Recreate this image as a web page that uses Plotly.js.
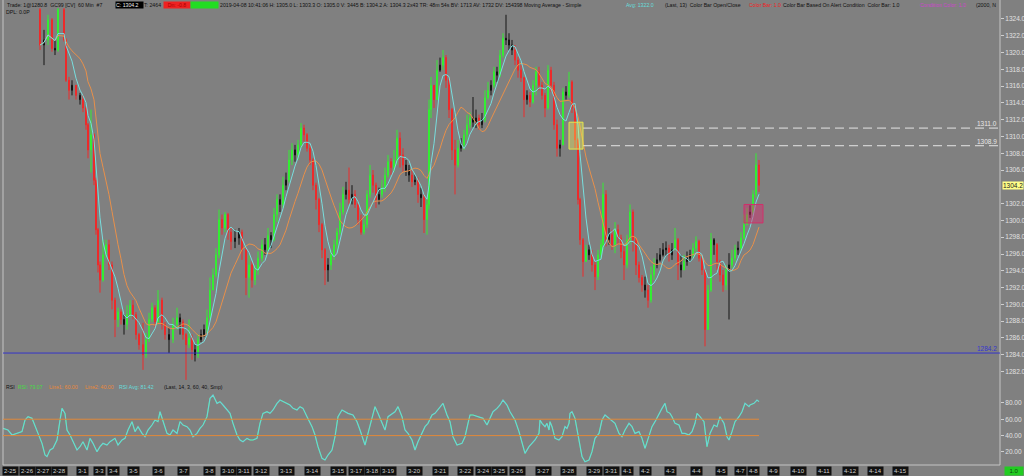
<!DOCTYPE html>
<html><head><meta charset="utf-8">
<script src="https://cdn.plot.ly/plotly-3.0.1.min.js"></script>
<style>html,body{margin:0;padding:0;background:#808080;overflow:hidden}#chart{width:1024px;height:476px}</style>
</head><body><div id="chart"></div>
<script>
// ---- price bars (60 min GC, grouped) ----
const candleX = [40,44,48,52,55,58,64,66,69,72,
76,80,83,86,88,91,94,96,98,100,
103,106,109,112,115,118,121,124,127,130,
133,136,139,143,146,149,152,155,158,162,
165,169,173,177,180,183,186,189,192,195,
198,201,204,207,210,213,216,219,222,225,
228,231,235,239,242,246,249,252,255,258,
262,265,268,271,274,277,280,283,286,289,
292,295,298,301,304,307,310,313,316,319,
322,325,328,331,334,337,340,343,346,349,
352,355,358,361,364,367,370,373,376,379,
382,385,388,391,394,397,400,403,406,409,
412,415,418,421,424,427,429,431,434,437,
440,443,446,449,452,455,458,461,464,467,
470,473,476,479,482,485,488,491,494,497,
500,503,506,509,512,515,518,521,524,527,
530,533,536,539,542,545,548,551,554,557,
560,563,566,569,572,575,578,580,583,586,
589,592,595,598,601,603,606,609,612,615,
618,621,624,627,630,633,636,639,642,645,
648,651,654,657,660,663,666,669,672,675,
678,681,684,687,690,693,696,699,702,705,
708,711,714,717,720,723,726,729,732,735,
738,741,744,747,750,753,756,759];
const firstOpen = 1325.1;
const closes = [1320.9,1321.5,1323.9,1320.5,1320.3,1325.1,1321.5,1316.7,1315.5,1316.1,
1314.9,1314.4,1313.4,1311.4,1308.4,1310.2,1304.8,1298.9,1294.7,1292.9,
1295.9,1297.1,1294.7,1290.5,1288.2,1289.1,1288.2,1287.6,1288.8,1289.9,
1288.8,1286.4,1285.2,1284.0,1285.8,1288.2,1289.6,1287.9,1290.5,1287.6,
1286.4,1285.8,1287.6,1288.4,1287.9,1286.4,1285.2,1286.0,1284.6,1284.0,
1285.8,1286.4,1287.0,1288.4,1291.7,1293.5,1295.9,1300.1,1299.1,1300.7,
1298.6,1297.5,1297.9,1298.6,1296.5,1293.2,1294.7,1292.9,1294.1,1295.5,
1297.1,1296.5,1298.2,1297.7,1300.7,1302.5,1301.9,1304.2,1304.8,1307.2,
1308.4,1307.8,1309.0,1311.0,1310.2,1308.6,1307.2,1304.2,1302.5,1299.5,
1296.5,1294.1,1294.7,1295.9,1297.1,1298.6,1301.0,1303.1,1303.6,1302.5,
1303.1,1301.9,1300.1,1298.6,1299.5,1303.1,1305.4,1304.2,1302.5,1303.1,
1303.9,1305.4,1307.0,1306.3,1307.2,1309.8,1307.8,1306.6,1306.0,1305.4,
1304.6,1304.8,1303.1,1302.7,1300.1,1301.9,1313.2,1316.1,1314.4,1317.9,
1318.5,1319.4,1316.7,1313.2,1308.4,1306.6,1308.6,1309.0,1310.2,1311.4,
1312.2,1311.7,1312.2,1311.4,1312.0,1314.6,1315.5,1316.1,1317.7,1317.3,
1319.7,1321.7,1321.5,1320.9,1320.3,1319.1,1317.9,1317.0,1314.4,1314.9,
1314.1,1316.1,1317.7,1316.1,1314.9,1313.4,1317.9,1316.1,1311.4,1308.6,
1309.0,1315.3,1314.9,1316.5,1313.4,1309.6,1302.5,1297.7,1295.1,1296.5,
1295.9,1294.7,1293.3,1295.9,1297.1,1303.1,1297.7,1298.3,1297.1,1298.9,
1297.9,1296.3,1294.7,1297.7,1301.0,1297.7,1294.7,1293.2,1292.3,1291.7,
1290.5,1293.5,1294.7,1295.3,1295.9,1296.5,1296.7,1295.9,1296.5,1297.7,
1294.7,1294.1,1295.1,1295.5,1295.9,1296.7,1297.5,1295.5,1294.1,1287.0,
1291.7,1297.7,1297.1,1295.1,1293.5,1292.3,1294.1,1294.7,1295.5,1296.5,
1296.7,1297.9,1299.5,1300.7,1301.0,1303.1,1306.6,1304.2];
const highs = [1325.3,1322.7,1324.5,1324.1,1321.5,1325.3,1325.3,1321.7,1317.1,1316.7,
1315.9,1315.2,1314.9,1313.6,1311.6,1313.2,1310.4,1305.1,1299.1,1295.1,
1297.7,1297.7,1297.7,1295.1,1290.8,1289.6,1289.4,1288.8,1289.9,1290.5,
1290.5,1289.1,1286.6,1287.8,1286.6,1289.0,1290.2,1289.9,1291.7,1290.8,
1287.9,1287.2,1288.4,1289.6,1288.9,1288.2,1286.6,1288.2,1286.4,1285.2,
1286.4,1287.0,1287.6,1289.4,1293.2,1294.3,1296.7,1301.3,1300.7,1301.0,
1300.9,1299.1,1298.9,1299.1,1298.9,1296.7,1295.9,1295.1,1294.7,1296.3,
1297.7,1297.9,1299.1,1298.6,1301.5,1303.1,1303.1,1305.2,1305.7,1308.4,
1309.2,1309.0,1309.6,1311.6,1311.4,1310.4,1309.0,1307.4,1304.5,1302.7,
1299.7,1296.7,1295.5,1296.5,1297.7,1299.1,1302.1,1304.0,1304.6,1306.3,
1304.2,1303.6,1302.1,1300.7,1300.1,1303.6,1306.6,1306.0,1304.5,1303.9,
1304.8,1306.3,1307.8,1307.4,1308.4,1310.8,1310.5,1308.6,1307.2,1306.6,
1306.0,1305.4,1305.1,1303.9,1303.1,1302.5,1314.4,1317.1,1315.8,1319.1,
1319.4,1320.3,1319.7,1317.0,1313.4,1309.6,1309.6,1309.8,1310.8,1312.6,
1312.9,1314.7,1313.2,1312.6,1312.8,1315.5,1316.5,1316.7,1318.3,1318.3,
1320.3,1322.3,1324.5,1322.3,1321.5,1320.9,1319.5,1318.5,1317.1,1315.5,
1315.3,1316.7,1318.3,1318.3,1316.5,1315.2,1318.5,1318.3,1316.5,1312.0,
1309.6,1315.8,1316.0,1317.7,1316.7,1313.8,1309.8,1302.7,1297.9,1297.1,
1297.1,1296.5,1295.1,1296.5,1297.7,1304.5,1303.6,1299.1,1298.9,1299.8,
1299.5,1298.3,1297.1,1298.3,1301.9,1301.3,1297.9,1295.1,1293.5,1293.3,
1292.3,1294.5,1295.5,1296.1,1296.7,1297.3,1297.5,1297.1,1297.3,1299.1,
1297.9,1295.9,1295.9,1296.3,1296.5,1297.3,1298.1,1297.7,1295.9,1294.3,
1292.3,1298.5,1297.9,1297.3,1295.3,1294.1,1294.7,1296.1,1296.5,1297.1,
1297.5,1298.6,1300.7,1301.5,1301.8,1303.6,1308.0,1307.2];
const lows = [1320.3,1318.5,1320.9,1320.1,1319.7,1320.1,1321.3,1316.5,1314.4,1314.9,
1314.4,1313.8,1312.9,1310.8,1307.4,1305.7,1304.2,1298.3,1293.8,1291.4,
1292.7,1295.5,1294.1,1289.4,1286.1,1287.3,1287.6,1286.4,1287.0,1288.4,
1288.2,1285.8,1284.6,1282.2,1283.6,1285.5,1287.9,1287.3,1287.6,1287.0,
1285.8,1284.2,1285.4,1287.0,1286.4,1285.8,1281.0,1284.8,1283.4,1283.2,
1283.6,1285.5,1286.1,1286.6,1288.2,1291.7,1293.2,1295.5,1298.3,1298.6,
1297.7,1296.5,1296.7,1297.1,1295.3,1291.1,1290.8,1292.0,1292.3,1293.5,
1295.1,1295.9,1296.3,1296.7,1297.5,1299.8,1301.0,1301.5,1303.6,1304.5,
1306.6,1307.0,1307.2,1308.6,1309.4,1308.2,1306.6,1303.6,1301.3,1298.6,
1295.5,1292.3,1292.7,1294.1,1295.3,1296.5,1298.3,1300.7,1302.5,1301.9,
1301.9,1301.5,1299.5,1298.3,1298.3,1299.1,1302.7,1303.3,1301.5,1301.9,
1302.7,1303.4,1305.1,1305.4,1305.8,1306.6,1306.3,1305.8,1305.3,1304.6,
1304.0,1304.2,1302.1,1301.6,1298.5,1298.3,1301.3,1312.2,1313.4,1314.4,
1317.7,1317.9,1315.8,1312.2,1307.2,1303.1,1306.3,1308.2,1308.4,1309.6,
1311.0,1311.1,1311.0,1310.8,1311.0,1311.7,1314.4,1314.9,1315.8,1316.5,
1317.1,1319.4,1320.9,1320.3,1319.7,1318.5,1317.0,1316.5,1312.3,1313.8,
1313.5,1313.9,1314.9,1315.5,1314.4,1312.3,1313.2,1315.3,1310.8,1307.6,
1307.6,1309.0,1314.4,1314.6,1312.8,1308.6,1301.9,1297.1,1293.3,1295.1,
1295.3,1293.9,1291.7,1292.9,1295.5,1296.5,1296.9,1297.1,1296.5,1296.1,
1297.1,1295.5,1292.9,1294.3,1297.1,1296.3,1293.5,1292.6,1291.5,1290.8,
1289.6,1290.2,1292.9,1294.3,1295.1,1295.7,1295.8,1295.1,1295.3,1296.5,
1292.9,1293.2,1294.1,1294.6,1295.1,1295.5,1296.3,1295.1,1293.5,1285.0,
1287.0,1291.5,1295.9,1294.1,1292.7,1291.5,1291.7,1288.2,1294.3,1295.1,
1295.9,1296.5,1297.7,1299.5,1300.3,1300.7,1302.7,1303.4];

// ---- RSI (14) ----
const rsiX = [3,8,12,17,22,25,28,32,35,38,42,45,47,50,53,57,60,62,65,67,
70,73,77,80,83,87,90,93,97,100,103,107,110,115,118,122,125,128,132,135,
138,142,145,148,152,155,158,160,163,167,170,173,177,180,183,187,190,193,197,200,
203,207,210,213,217,220,223,227,230,233,237,240,243,247,250,253,257,260,263,267,
270,273,277,280,283,287,290,293,297,300,303,307,312,315,318,322,325,328,332,335,
338,342,345,348,353,357,360,365,368,372,375,378,382,385,388,392,395,398,402,405,
408,412,415,418,422,425,428,432,435,438,443,447,450,453,457,462,465,468,470,473,
478,483,487,490,493,497,500,503,507,510,
512,515,519,522,525,529,532,535,539,540,542,545,547,549,550,552,555,559,562,565,
567,569,570,572,575,579,582,585,589,592,595,599,602,605,609,612,615,619,622,625,
629,632,635,639,642,645,649,652,655,659,662,665,667,670,672,675,679,682,685,689,
692,695,697,700,704,707,710,714,717,720,724,727,729,732,735,739,742,745,749,750,
754,757,759];
const rsiVal = [48.8,46.8,40.7,42.7,44.8,59.0,63.1,61.1,52.9,42.7,30.5,16.2,14.2,22.3,24.4,34.6,59.0,73.3,67.2,46.8,
40.7,32.5,22.3,26.4,32.5,22.3,36.6,30.5,20.3,26.4,30.5,28.4,32.5,36.6,28.4,34.6,36.6,46.8,57.0,44.8,
50.9,42.7,38.6,46.8,52.9,59.0,57.0,69.2,57.0,42.7,40.7,46.8,42.7,57.0,52.9,50.9,46.8,38.6,42.7,48.8,
52.9,63.1,85.6,89.6,79.4,81.5,77.4,71.3,67.2,55.0,40.7,34.6,32.5,36.6,34.6,34.6,36.6,55.0,67.2,69.2,
67.2,71.3,79.4,83.5,81.5,79.4,77.4,73.3,71.3,75.4,73.3,63.1,50.9,40.7,26.4,12.1,10.1,16.2,22.3,38.6,
63.1,71.3,69.2,67.2,65.2,57.0,46.8,28.4,42.7,63.1,75.4,67.2,55.0,46.8,63.1,67.2,69.2,75.4,63.1,46.8,
42.7,34.6,22.3,32.5,42.7,50.9,55.0,65.2,67.2,71.3,79.4,65.2,57.0,38.6,28.4,30.5,38.6,55.0,65.2,65.2,
63.1,61.1,52.9,61.1,69.2,73.3,77.4,83.5,77.4,69.2,
65.2,59.0,44.8,30.5,18.2,26.4,30.5,34.6,42.7,59.0,55.0,50.9,55.0,46.8,57.0,50.9,36.6,34.6,38.6,50.9,
48.8,55.0,67.2,69.2,61.1,34.6,14.2,8.0,10.1,20.3,36.6,42.7,59.0,65.2,61.1,59.0,55.0,42.7,38.6,46.8,
55.0,50.9,42.7,44.8,36.6,24.4,38.6,50.9,57.0,67.2,73.3,79.4,69.2,67.2,63.1,55.0,52.9,42.7,42.7,40.7,
44.8,55.0,67.2,63.1,57.0,26.4,42.7,52.9,50.9,63.1,55.0,38.6,34.6,44.8,57.0,63.1,69.2,79.4,75.4,77.4,
79.4,83.5,81.5];
const rsiLevels = [60, 40];

// ---- levels / zones ----
const dashLevels = [1311.0, 1308.9];
const dashStartX = 583;
const supportLevel = 1284.2;
const lastPrice = 1304.2;
const zoneX0 = [569, 744], zoneX1 = [583, 763];
const zoneY0 = [1308.5, 1299.7], zoneY1 = [1311.7, 1301.9];
const zoneFill = ['rgba(255,255,90,0.35)', 'rgba(220,40,110,0.45)'];
const zoneLine = ['#e6e64a', '#d0306a'];

// ---- axis labels ----
const priceTicks = [1282,1284,1286,1288,1290,1292,1294,1296,1298,1300,1302,1306,1308,1310,1312,1314,1316,1318,1320,1322,1324];
const rsiTicks = [20, 40, 60, 80];
const dateLabels = ['2-25','2-26','2-27','2-28','3-1','3-3','3-4','3-5','3-6','3-7','3-8','3-10','3-11','3-12','3-13','3-14','3-15','3-17','3-18','3-19','3-20','3-21','3-22','3-24','3-25','3-26','3-27','3-28','3-29','3-31','4-1','4-2','4-3','4-4','4-5','4-7','4-8','4-9','4-10','4-11','4-12','4-14','4-15'];
const datePos = [10,27,43,59,82,99,113,133,158,183,209,228,244,261,286,312,338,356,372,388,414,440,465,483,499,517,543,568,594,611,627,645,670,696,721,740,753,773,798,824,850,875,900];

// ---- derived ----
const opens = closes.map((c, i) => i === 0 ? firstOpen : closes[i - 1]);
const hi = highs.map((h, i) => Math.max(h, opens[i], closes[i]));
const lo = lows.map((l, i) => Math.min(l, opens[i], closes[i]));
function sma(a, n) {
  return a.map((_, i) => { const s = Math.max(0, i - n + 1); let t = 0; for (let j = s; j <= i; j++) t += a[j]; return t / (i - s + 1); });
}
const maFast = sma(closes, 5);
const maSlow = sma(closes, 12);

function pick(cond) {
  const idx = closes.map((_, i) => i).filter(cond);
  return {x: idx.map(i => candleX[i]), open: idx.map(i => opens[i]), high: idx.map(i => hi[i]), low: idx.map(i => lo[i]), close: idx.map(i => closes[i])};
}
const flat = i => Math.abs(closes[i] - opens[i]) < 0.7;
const colored = pick(i => !flat(i));
const blacks = pick(flat);

const FONT = 'Liberation Sans, Arial, sans-serif';
const traces = [
  {type: 'scatter', mode: 'lines', x: candleX, y: maSlow, line: {color: '#e8904a', width: 1}, hoverinfo: 'skip'},
  {type: 'scatter', mode: 'lines', x: candleX, y: maFast, line: {color: '#78dede', width: 1}, hoverinfo: 'skip'},
  Object.assign({type: 'candlestick', whiskerwidth: 0, hoverinfo: 'skip',
    increasing: {line: {color: '#33ee33', width: 1}, fillcolor: '#33ee33'},
    decreasing: {line: {color: '#ee2a2a', width: 1}, fillcolor: '#ee2a2a'}}, colored),
  Object.assign({type: 'candlestick', whiskerwidth: 0, hoverinfo: 'skip',
    increasing: {line: {color: '#141414', width: 1}, fillcolor: '#141414'},
    decreasing: {line: {color: '#141414', width: 1}, fillcolor: '#141414'}}, blacks),
  {type: 'scatter', mode: 'lines', x: rsiX, y: rsiVal, yaxis: 'y2', line: {color: '#55dd55', width: 1}, hoverinfo: 'skip'},
  {type: 'scatter', mode: 'lines', x: rsiX, y: rsiVal, yaxis: 'y2', line: {color: '#6ad6d6', width: 1.2}, hoverinfo: 'skip'}
];

const shapes = [];
shapes.push({type: 'line', xref: 'paper', yref: 'paper', x0: 0, x1: 0, y0: 0, y1: 1, line: {color: '#c4c4c4', width: 1}});
shapes.push({type: 'line', xref: 'paper', yref: 'paper', x0: 1, x1: 1, y0: 0, y1: 1, line: {color: '#c4c4c4', width: 1}});
shapes.push({type: 'line', xref: 'paper', yref: 'paper', x0: 0, x1: 1, y0: 0, y1: 0, line: {color: '#c4c4c4', width: 1}});
shapes.push({type: 'line', xref: 'paper', yref: 'y', x0: 0, x1: 1, y0: supportLevel, y1: supportLevel, line: {color: '#3434c8', width: 1}});
dashLevels.forEach(v => shapes.push({type: 'line', xref: 'x', yref: 'y', x0: dashStartX, x1: 1000, y0: v, y1: v, line: {color: '#e4e4e4', width: 1, dash: '9px,5px'}}));
zoneX0.forEach((_, i) => shapes.push({type: 'rect', xref: 'x', yref: 'y', x0: zoneX0[i], x1: zoneX1[i], y0: zoneY0[i], y1: zoneY1[i], fillcolor: zoneFill[i], line: {color: zoneLine[i], width: 1}, layer: 'above'}));
rsiLevels.forEach(v => shapes.push({type: 'line', xref: 'x', yref: 'y2', x0: 3, x1: candleX[candleX.length - 1], y0: v, y1: v, line: {color: '#e0883a', width: 1}}));

const ann = [];
const HS = 5.2;
function txt(x, yp, text, opt) {
  ann.push(Object.assign({x: x, xref: 'x', y: yp, yref: 'paper', xanchor: 'left', yanchor: 'middle', showarrow: false, text: text,
    font: {family: FONT, size: HS, color: '#111'}, borderpad: 0}, opt || {}));
}
const H1 = 0.9892, H2 = 0.974, HR = 0.1677;
txt(6, H1, 'Trade: 1@1280.8&nbsp;&nbsp;GC99 [CV]&nbsp;&nbsp;60 Min&nbsp;&nbsp;#7');
txt(115, H1, 'C: 1304.2', {bgcolor: '#000', font: {family: FONT, size: HS, color: '#eee'}, width: 27, align: 'left'});
txt(143, H1, 'T: 2464');
txt(163, H1, 'Dn: -0.8', {bgcolor: '#ee2222', font: {family: FONT, size: HS, color: '#a00'}, width: 26});
txt(190, H1, ' ', {bgcolor: '#22dd22', width: 27});
txt(219, H1, '2019-04-08 10:41:06 H: 1305.0 L: 1303.3 O: 1305.0 V: 3445 B: 1304.2 A: 1304.3 2x43 TR: 48m 54s BV: 1713 AV: 1732 DV: 154398 Moving Average - Simple');
txt(625, H1, 'Avg: 1322.0', {font: {family: FONT, size: HS, color: '#66dddd'}});
txt(664, H1, '(Last, 13)&nbsp;&nbsp;Color Bar Open/Close');
txt(748, H1, 'Color Bar: 1.0', {font: {family: FONT, size: HS, color: '#ee2222'}});
txt(782, H1, 'Color Bar Based On Alert Condition&nbsp;&nbsp;Color Bar: 1.0');
txt(919, H1, 'Condition Color: 1.0', {font: {family: FONT, size: HS, color: '#cc44cc'}});
txt(975, H1, '(2000, N');
txt(5, H2, 'DPL: 0.0P');
txt(5, HR, 'RSI');
txt(17, HR, 'RSI: 79.07', {font: {family: FONT, size: HS, color: '#44dd44'}});
txt(48, HR, 'Line1: 60.00', {font: {family: FONT, size: HS, color: '#e8883a'}});
txt(84, HR, 'Line2: 40.00', {font: {family: FONT, size: HS, color: '#e8883a'}});
txt(118, HR, 'RSI Avg: 81.42', {font: {family: FONT, size: HS, color: '#66dddd'}});
txt(163, HR, '(Last, 14, 3, 60, 40, Smp)');

dashLevels.forEach(v => ann.push({x: 998, xref: 'x', y: v, yref: 'y', xanchor: 'right', yanchor: 'bottom', showarrow: false, text: v.toFixed(1), font: {family: FONT, size: 6.5, color: '#e8e8e8'}, borderpad: 0}));
ann.push({x: 998, xref: 'x', y: supportLevel, yref: 'y', xanchor: 'right', yanchor: 'bottom', showarrow: false, text: supportLevel.toFixed(1), font: {family: FONT, size: 6.5, color: '#3434d0'}, borderpad: 0});
ann.push({x: 1, xref: 'paper', xshift: 2, y: lastPrice, yref: 'y', xanchor: 'left', yanchor: 'middle', showarrow: false, text: lastPrice.toFixed(1), bgcolor: '#ffff88', font: {family: FONT, size: 6.5, color: '#222'}, borderpad: 0});
dateLabels.forEach((d, i) => ann.push({x: datePos[i], xref: 'x', y: 0, yref: 'paper', yshift: -1, xanchor: 'center', yanchor: 'top', showarrow: false, text: d, bgcolor: '#111', font: {family: FONT, size: 6, color: '#cfcfcf'}, borderpad: 1}));
ann.push({x: 1, xref: 'paper', xshift: 4, y: 0, yref: 'paper', yshift: -1, xanchor: 'left', yanchor: 'top', showarrow: false, text: '1.0', bgcolor: '#22cc22', font: {family: FONT, size: 6, color: '#114411'}, borderpad: 1, width: 16});

const axisFont = {family: FONT, size: 6.5, color: '#e0e0e0'};
const layout = {
  width: 1024, height: 476,
  paper_bgcolor: '#808080', plot_bgcolor: '#808080',
  margin: {l: 3, r: 24, t: 0, b: 11},
  showlegend: false,
  xaxis: {range: [3, 1000], showticklabels: false, showgrid: false, zeroline: false, showline: false, ticks: '', rangeslider: {visible: false}, anchor: 'y2', fixedrange: true},
  yaxis: {domain: [0.183, 1], range: [1281.0, 1326.26], side: 'right', tickvals: priceTicks, ticktext: priceTicks.map(v => v.toFixed(1)),
    ticks: 'outside', ticklen: 3, tickcolor: '#cfcfcf', tickfont: axisFont, showgrid: false, zeroline: false, showline: false, fixedrange: true},
  yaxis2: {domain: [0, 0.1763], range: [4, 104.3], side: 'right', tickvals: rsiTicks, ticktext: rsiTicks.map(v => v.toFixed(2)),
    ticks: 'outside', ticklen: 3, tickcolor: '#cfcfcf', tickfont: axisFont, showgrid: false, zeroline: false, showline: false, fixedrange: true},
  shapes: shapes,
  annotations: ann
};
Plotly.newPlot('chart', traces, layout, {staticPlot: true, displayModeBar: false});
</script>
</body></html>
